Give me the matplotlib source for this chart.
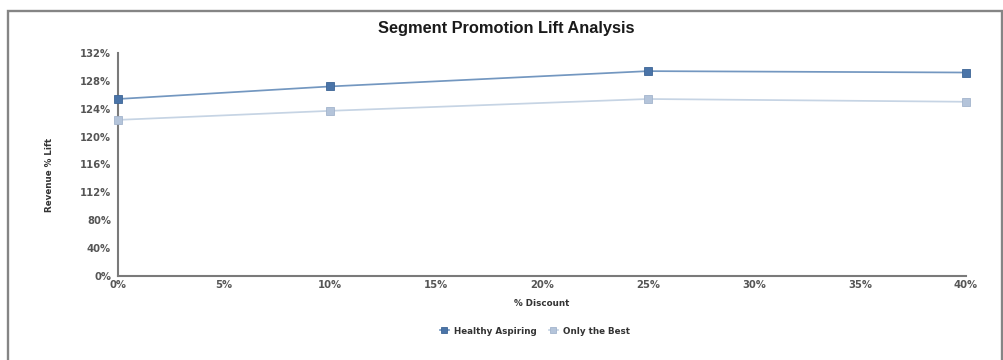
import numpy as np
import matplotlib
matplotlib.use("Agg")
import matplotlib.pyplot as plt
from matplotlib.patches import Rectangle

# Discount levels tested (%) and revenue lift (%) for each segment
discounts = [0, 10, 25, 40]
healthy_aspiring = [125.4, 127.2, 129.4, 129.2]
only_the_best = [122.4, 123.7, 125.4, 125.0]

x_ticks = [0, 5, 10, 15, 20, 25, 30, 35, 40]
y_ticks = [0, 40, 80, 112, 116, 120, 124, 128, 132]

series_names = ["Healthy Aspiring", "Only the Best"]

# The value axis places its labels evenly spaced, so map values piecewise
# between consecutive tick values.
y_slots = np.arange(len(y_ticks), dtype=float)


def fwd(v):
    return np.interp(v, y_ticks, y_slots)


def inv(p):
    return np.interp(p, y_slots, y_ticks)


plt.rcParams["font.family"] = ["DejaVu Sans"]

fig = plt.figure(figsize=(10.04, 3.6), dpi=100)
fig.patch.set_facecolor("white")

# outer frame around the chart
frame = Rectangle((8 / 1004, -0.05), (1002 - 8) / 1004, 1.05 - 11 / 360,
                  transform=fig.transFigure, fill=False,
                  edgecolor="#858585", linewidth=1.7, zorder=0)
fig.add_artist(frame)

ax = fig.add_axes([118 / 1004, (360 - 276) / 360,
                   (966 - 118) / 1004, (276 - 53) / 360])
ax.set_yscale("function", functions=(fwd, inv))

dark_line, dark_mark = "#7397c0", "#4a74a8"
light_line, light_mark = "#c6d4e4", "#b4c4da"

ax.plot(discounts, healthy_aspiring, color=dark_line, lw=1.25,
        marker="s", ms=6.2, mfc=dark_mark, mec="#3d6596", mew=0.6,
        label=series_names[0], clip_on=False, zorder=3)
ax.plot(discounts, only_the_best, color=light_line, lw=1.25,
        marker="s", ms=6.2, mfc=light_mark, mec="#a3b4cc", mew=0.6,
        label=series_names[1], clip_on=False, zorder=3)

ax.set_xlim(0, 40)
ax.set_ylim(0, 132)
ax.set_xticks(x_ticks)
ax.set_xticklabels([f"{t}%" for t in x_ticks])
ax.set_yticks(y_ticks)
ax.set_yticklabels([f"{t}%" for t in y_ticks])
ax.minorticks_off()

for lab in ax.get_xticklabels() + ax.get_yticklabels():
    lab.set_fontsize(7.2)
    lab.set_fontweight("bold")
    lab.set_color("#555555")
ax.tick_params(axis="both", length=0)
ax.tick_params(axis="y", pad=5)
ax.tick_params(axis="x", pad=3)

for side in ("top", "right"):
    ax.spines[side].set_visible(False)
for side in ("left", "bottom"):
    ax.spines[side].set_color("#7a7a7a")
    ax.spines[side].set_linewidth(1.5)
ax.grid(False)

fig.text(506 / 1004, 1 - 28 / 360, "Segment Promotion Lift Analysis",
         ha="center", va="center", fontsize=11.8, fontweight="bold",
         family="Liberation Sans", color="#1a1a1a")
fig.text(50 / 1004, 1 - 175 / 360, "Revenue % Lift", rotation=90,
         ha="center", va="center", fontsize=6.3, fontweight="bold",
         color="#333333")
fig.text(542 / 1004, 1 - 303 / 360, "% Discount", ha="center", va="center",
         fontsize=6.3, fontweight="bold", color="#333333")

leg = fig.legend(loc="center", bbox_to_anchor=(535 / 1004, 1 - 331 / 360),
                 ncol=2, frameon=False, fontsize=6.3, handlelength=1.0,
                 handletextpad=0.6, columnspacing=1.4, markerscale=0.75)
for t in leg.get_texts():
    t.set_fontweight("bold")
    t.set_color("#333333")

fig.savefig("out.png", dpi=100, facecolor="white")
